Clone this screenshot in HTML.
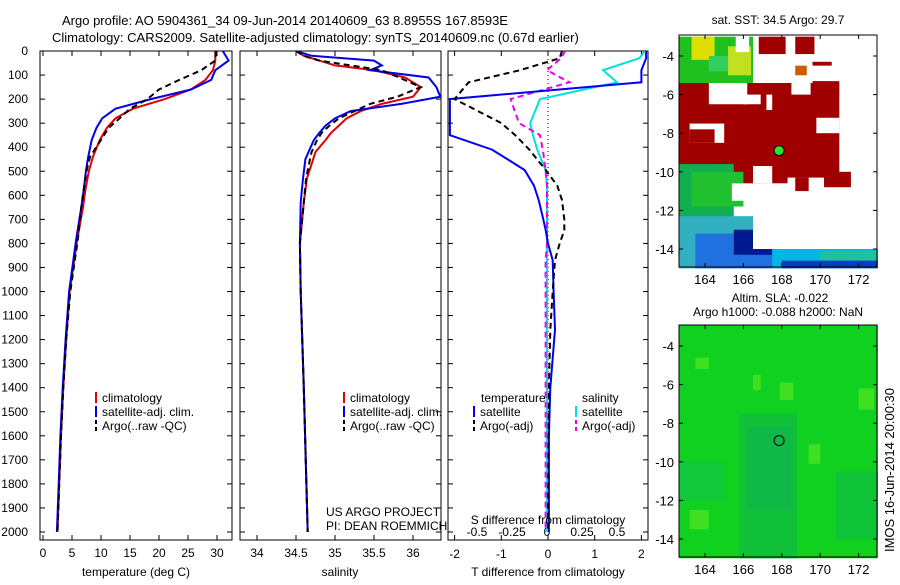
<!DOCTYPE html>
<html><head><meta charset="utf-8"><style>
body{margin:0;background:#fff;}
svg text{font-family:"Liberation Sans",sans-serif;fill:#000;}
</style></head><body>
<svg id="fig" width="900" height="580" xmlns="http://www.w3.org/2000/svg" font-size="12">
<defs>
<clipPath id="c1"><rect x="40" y="51" width="192" height="489"/></clipPath>
<clipPath id="c2"><rect x="240" y="51" width="201" height="489"/></clipPath>
<clipPath id="c3"><rect x="448" y="51" width="200" height="489"/></clipPath>
</defs>
<rect width="900" height="580" fill="#fff"/>
<text x="62" y="25" font-size="13">Argo profile: AO 5904361_34 09-Jun-2014 20140609_63 8.8955S 167.8593E</text>
<text x="52" y="42" font-size="13">Climatology: CARS2009. Satellite-adjusted climatology: synTS_20140609.nc (0.67d earlier)</text>
<g id="g"></g>
</svg>
<script>
// ---- data ----
const tDepth=[0,40,80,120,160,200,240,280,320,370,440,500,580,650,785,1000,1200,1400,1600,1800,2000];
const tClim=[29.7,29.7,29.3,28,25.5,21,15.5,12.5,11,9.8,8.6,7.9,7.3,6.9,5.9,4.6,4.0,3.5,3.1,2.8,2.5];
const tSat=[31,32,29.7,29,25.5,18.6,12.5,10.2,9.2,8.4,7.8,7.4,7,6.6,5.7,4.5,3.9,3.4,3.0,2.7,2.4];
const tArgo=[29.8,29.7,27.3,23.5,20,18,15,13.2,11.3,10,8.1,7.5,7,6.6,6,4.7,4.0,3.5,3.1,2.8,2.5];
const sDepth=[0,20,40,60,80,110,150,190,220,250,280,310,340,370,420,450,530,630,800,1000,1400,2000];
const sClim=[34.5,34.6,34.8,35.0,35.5,35.9,36.1,36.0,35.6,35.33,35.15,35.05,34.95,34.88,34.75,34.72,34.64,34.6,34.55,34.56,34.6,34.65];
const sSat=[34.5,34.7,35.5,35.6,35.45,36.2,36.3,36.35,35.85,35.2,35.0,34.88,34.8,34.73,34.66,34.62,34.59,34.56,34.55,34.56,34.6,34.65];
const sArgo=[34.5,34.6,34.8,35.2,35.6,35.82,36.1,35.8,35.45,35.25,35.05,34.93,34.83,34.77,34.7,34.68,34.63,34.6,34.55,34.56,34.6,34.65];
const dDepth=[0,30,80,130,200,300,350,410,495,560,620,700,745,800,870,1000,1160,1400,1600,2000];
const dTSat=[2.1,2.1,2.0,2.0,-2.1,-2.1,-2.1,-1.2,-0.5,-0.3,-0.2,-0.1,-0.05,0,0.1,0.12,0.15,0.05,0.02,0.02];
const dTArgo=[0.3,0.25,-0.6,-1.7,-2.0,-1.0,-0.7,-0.4,-0.05,0.2,0.3,0.35,0.35,0.25,0.15,0.1,0.05,0.02,0.01,0.0];
const dSSat=[0.7,0.66,0.4,0.5,-0.05,-0.12,-0.1,-0.07,-0.01,0,0,0,0,0,0,0,0,0,0,0];
const dSArgo=[0.13,0.1,0,0.16,-0.26,-0.2,-0.05,-0.03,-0.01,0,0,0,0,0,-0.01,-0.01,-0.01,-0.01,-0.01,-0.01];
const depthTicks=[0,100,200,300,400,500,600,700,800,900,1000,1100,1200,1300,1400,1500,1600,1700,1800,1900,2000];
const tTicks=[0,5,10,15,20,25,30];
const sTicks=[34,34.5,35,35.5,36];
const dTTicks=[-2,-1,0,1,2];
const dSTicks=[-0.5,-0.25,0,0.25,0.5];
const lonTicks=[164,166,168,170,172];
const latTicks=[-4,-6,-8,-10,-12,-14];

const NS="http://www.w3.org/2000/svg";
const G=document.getElementById('g');
function mk(t,a,p){const e=document.createElementNS(NS,t);for(const k in a)e.setAttribute(k,a[k]);(p||G).appendChild(e);return e;}
const Y=d=>51+d*0.2405;
const PY0=51,PY1=540;
function panel(x0,x1,name){const r=mk('rect',{x:x0,y:PY0,width:x1-x0,height:PY1-PY0,fill:'none',stroke:'#000'});}
function line(xs,ys,xf,col,w,dash,name,clip){
  const pts=xs.map((v,i)=>xf(v).toFixed(1)+','+Y(ys[i]).toFixed(1)).join(' ');
  const a={points:pts,fill:'none',stroke:col,'stroke-width':w,'clip-path':'url(#'+clip+')'};if(dash)a['stroke-dasharray']=dash;
  const e=mk('polyline',a);}
function xticks(ticks,xf,yb){ticks.forEach(t=>{const x=xf(t);mk('line',{x1:x,x2:x,y1:PY1,y2:PY1-5,stroke:'#000'});mk('line',{x1:x,x2:x,y1:PY0,y2:PY0+5,stroke:'#000'});const tx=mk('text',{x:x,y:yb,'text-anchor':'middle'});tx.textContent=t;});}
// panel 1
const X1=v=>43+v*5.8;
panel(40,232,'temperature-panel');
depthTicks.forEach(d=>{mk('line',{x1:40,x2:45,y1:Y(d),y2:Y(d),stroke:'#000'});mk('line',{x1:232,x2:227,y1:Y(d),y2:Y(d),stroke:'#000'});
 const t=mk('text',{x:28,y:Y(d)+4,'text-anchor':'end'});t.textContent=d;
 [240,448].forEach(x=>{mk('line',{x1:x,x2:x+5,y1:Y(d),y2:Y(d),stroke:'#000'});});[441,648].forEach(x=>{mk('line',{x1:x,x2:x-5,y1:Y(d),y2:Y(d),stroke:'#000'});});});
xticks(tTicks,X1,557);
line(tClim,tDepth,X1,'#e00000',2,null,'temp-climatology-line','c1');
line(tSat,tDepth,X1,'#0000ee',2,null,'temp-satellite-line','c1');
line(tArgo,tDepth,X1,'#000',2,'6,4','temp-argo-line','c1');
// panel 2
const X2=v=>257+(v-34)*78;
panel(240,441,'salinity-panel');
xticks(sTicks,X2,557);
line(sClim,sDepth,X2,'#e00000',2,null,'sal-climatology-line','c2');
line(sSat,sDepth,X2,'#0000ee',2,null,'sal-satellite-line','c2');
line(sArgo,sDepth,X2,'#000',2,'6,4','sal-argo-line','c2');
// panel 3
const X3=v=>548+v*46.7;const XS=v=>547+v*140;
panel(448,648,'difference-panel');
xticks(dTTicks,X3,558);
dSTicks.forEach(t=>{const tx=mk('text',{x:XS(t),y:536,'text-anchor':'middle'});tx.textContent=t;});
mk('line',{x1:548,x2:548,y1:PY0,y2:PY1,stroke:'#000','stroke-dasharray':'1,3'});
line(dSSat,dDepth,XS,'#00e0e0',2,null,'sdiff-satellite-line','c3');
line(dSArgo,dDepth,XS,'#ee00ee',2,'6,4','sdiff-argo-line','c3');
line(dTSat,dDepth,X3,'#0000ee',2,null,'tdiff-satellite-line','c3');
line(dTArgo,dDepth,X3,'#000',2,'6,4','tdiff-argo-line','c3');
function txt(x,y,s,name,anchor,size){const t=mk('text',{x:x,y:y});if(anchor)t.setAttribute('text-anchor',anchor);if(size)t.setAttribute('font-size',size);t.textContent=s;return t;}
txt(136,576,'temperature (deg C)','temperature-axis-title','middle');
txt(340,576,'salinity','salinity-axis-title','middle');
txt(548,576,'T difference from climatology','t-diff-axis-title','middle');
txt(548,524,'S difference from climatology','s-diff-axis-title','middle');
txt(326,516,'US ARGO PROJECT','project-label');txt(326,530,'PI: DEAN ROEMMICH','pi-label');
function leg(x,y,col,dash,s,name){const l=mk('line',{x1:x,x2:x,y1:y-10,y2:y+1,stroke:col,'stroke-width':2});if(dash)l.setAttribute('stroke-dasharray','4,3');txt(x+6,y,s,name);}
[96,344].forEach(x=>{leg(x,402,'#e00000',0,'climatology','legend-climatology');leg(x,416,'#0000ee',0,'satellite-adj. clim.','legend-satellite');leg(x,430,'#000',1,'Argo(..raw -QC)','legend-argo');});
txt(481,402,'temperature','legend-temperature-header');txt(582,402,'salinity','legend-salinity-header');
leg(474,416,'#0000ee',0,'satellite','legend-t-satellite');leg(474,430,'#000',1,'Argo(-adj)','legend-t-argo');
leg(576,416,'#00e0e0',0,'satellite','legend-s-satellite');leg(576,430,'#ee00ee',1,'Argo(-adj)','legend-s-argo');

// ---- maps ----
const MX=lon=>705+(lon-164)*19.2;
const MY1=lat=>56+(-4-lat)*19.3, MY2=lat=>346+(-4-lat)*19.3;
function R(MY,l0,l1,a0,a1,c,p){mk('rect',{x:MX(l0),y:MY(a1),width:MX(l1)-MX(l0),height:MY(a0)-MY(a1),fill:c},p);}
// map 1 (SST)
const m1=mk('g',{});
const DR='#a00000';
[[162.65,166.5,-5.4,-3,'#20c020'],[163.3,164.5,-4.2,-3,'#e0e000'],[164.2,165.5,-4.8,-4,'#30d060'],[165.2,166.4,-5,-3.5,'#c0e020'],
 [162.65,171,-10.6,-5.4,DR],[166.8,168.2,-3.9,-3,DR],[168.7,169.7,-3.9,-3,DR],[169.6,170.6,-5.5,-4.3,DR],[170.2,171,-6,-5.3,DR],
 [171,171.6,-9.3,-6.4,DR],[171,171.6,-10.8,-9.3,DR],[167.5,168.8,-6.8,-5.4,DR],
 [162.65,165.5,-15,-9.6,'#10b050'],[163.3,166,-11.8,-10,'#20c030'],[162.65,168.5,-15,-12.3,'#30b0c0'],
 [163.5,168.5,-15,-13.2,'#2070e0'],[165.5,167.5,-14.3,-13,'#001890'],[167.5,173,-15,-14,'#00b8e0'],[168,173,-15,-14.6,'#0040c0'],[170,173,-14.6,-14.1,'#20c0a0']
].forEach(b=>R(MY1,b[0],b[1],b[2],b[3],b[4],m1));
[[164.2,166.2,-6.5,-5.4],[166.5,167.5,-10.6,-9.7],[165.4,166.4,-11.5,-10.6],[167.2,168.3,-11.3,-10.6],[168.3,170.2,-12,-10.3],[170.2,171,-12,-10.8],[163.2,165,-8.5,-7.5],[169.8,171,-8,-7.2],[168.2,171.6,-5.3,-4.5],[171,173,-14,-3],[169.5,171,-14,-12],[166.5,169.5,-14,-12.2],[166,166.9,-6.5,-6],[167.2,167.5,-6.8,-6],[168.5,169.5,-6,-5.4],[165.6,166.3,-3.8,-3]].forEach(b=>R(MY1,b[0],b[1],b[2],b[3],'#fff',m1));
[[163.2,164.5,-8.5,-7.8],[170.2,171.6,-10.8,-10],[168.7,169.4,-11,-10.3]].forEach(b=>R(MY1,b[0],b[1],b[2],b[3],DR,m1));
R(MY1,168.7,169.3,-5,-4.5,'#d05a00',m1);
mk('circle',{cx:MX(167.86),cy:MY1(-8.9),r:5,fill:'#30e030',stroke:'#000'},m1);
// map 2 (SLA)
const m2=mk('g',{});
R(MY2,162.65,173,-15,-2.9,'#10d020',m2);
[[165.8,168.8,-15,-7.5,'#10c038'],[166.2,168.5,-12.5,-8.2,'#10b848'],[170.8,173,-14,-10.5,'#10c43a'],[162.65,165,-12,-10,'#10c83a'],[163.5,164.2,-5.2,-4.6,'#40e020'],[166.5,166.9,-6.3,-5.5,'#40e020'],[167.9,168.6,-6.8,-5.9,'#40e020'],[172,172.8,-7.3,-6.2,'#40e020'],[169.4,170,-10.1,-9.1,'#40e020'],[163.2,164.2,-13.5,-12.5,'#40e020']].forEach(b=>R(MY2,b[0],b[1],b[2],b[3],b[4],m2));
mk('circle',{cx:MX(167.86),cy:MY2(-8.9),r:5,fill:'none',stroke:'#000'},m2);
[[MY1,35,267],[MY2,325,557]].forEach(([MY,y0,y1],i)=>{
 const fr=mk('rect',{x:679,y:y0,width:198,height:y1-y0,fill:'none',stroke:'#000'});
 lonTicks.forEach(l=>{mk('line',{x1:MX(l),x2:MX(l),y1:y1,y2:y1-4,stroke:'#000'});mk('line',{x1:MX(l),x2:MX(l),y1:y0,y2:y0+4,stroke:'#000'});txt(MX(l),y1+17,l,'lon-tick-label','middle',13);});
 latTicks.forEach(a=>{mk('line',{x1:679,x2:683,y1:MY(a),y2:MY(a),stroke:'#000'});mk('line',{x1:877,x2:873,y1:MY(a),y2:MY(a),stroke:'#000'});txt(674,MY(a)+5,a,'lat-tick-label','end',13);});
});
txt(778,24,'sat. SST: 34.5 Argo: 29.7','sst-map-title','middle');
txt(780,302,'Altim. SLA: -0.022','sla-map-title-1','middle');
txt(778,316,'Argo h1000: -0.088 h2000: NaN','sla-map-title-2','middle');
const rt=txt(0,0,'IMOS 16-Jun-2014 20:00:30','imos-timestamp','middle',13);rt.setAttribute('transform','translate(894,470) rotate(-90)');
</script>
</body></html>
